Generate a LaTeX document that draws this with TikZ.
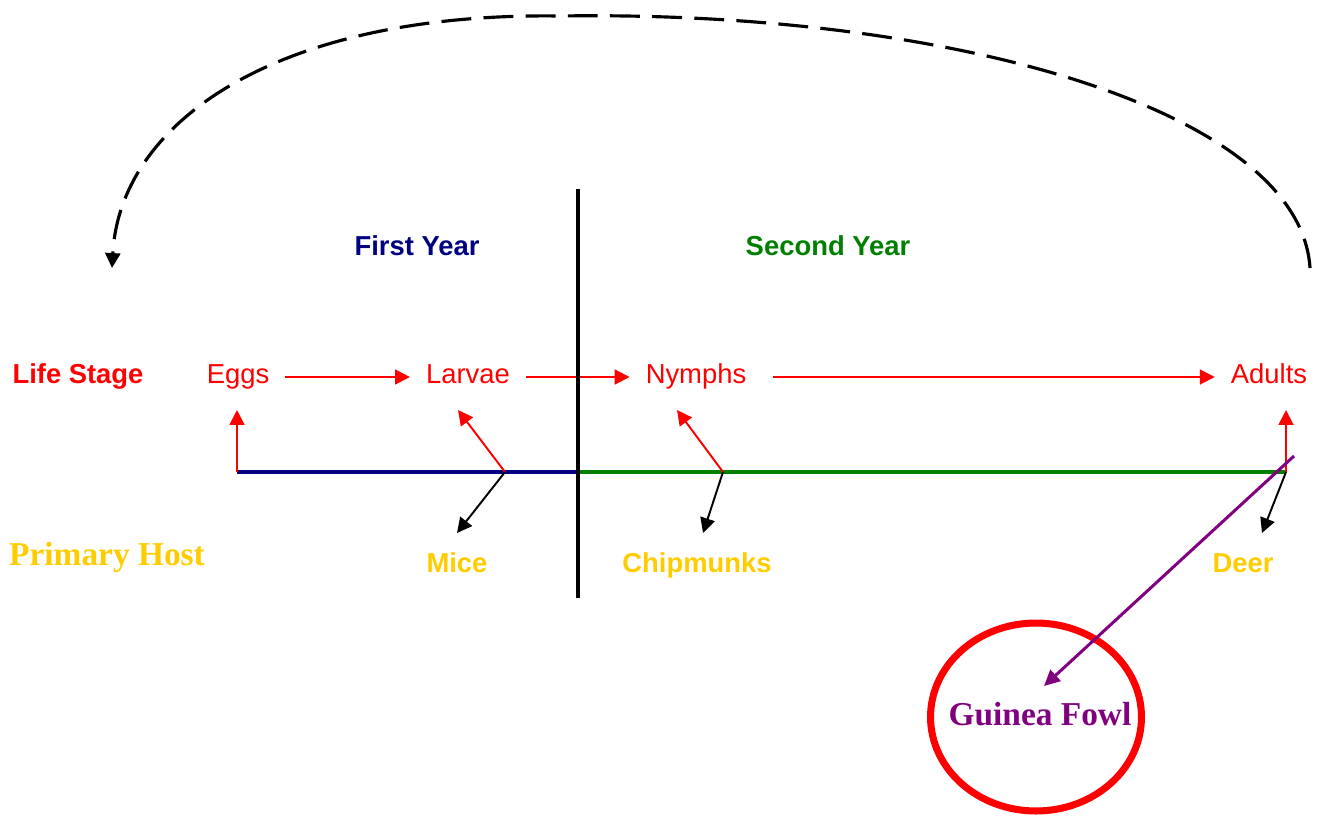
\documentclass[tikz,border=0pt]{standalone}
\usepackage{fontspec}
\setmainfont{Liberation Serif}
\setsansfont{Liberation Sans}
\usetikzlibrary{arrows.meta, shapes.geometric}

\definecolor{hostgold}{HTML}{FFCC00}
\definecolor{yearnavy}{HTML}{000080}
\definecolor{yeargreen}{HTML}{008000}
\definecolor{fowlpurple}{HTML}{800080}

\begin{document}
\begin{tikzpicture}[
        x=0.02cm, y=-0.02cm,
        lbl/.style={font=\sffamily\fontsize{15.6}{18}\selectfont, text height=11.2pt, text depth=3.3pt, inner xsep=9pt, inner ysep=0pt},
        stage/.style={lbl, text=red},
        boldlbl/.style={lbl, font=\sffamily\bfseries\fontsize{15.6}{18}\selectfont},
        host/.style={boldlbl, text=hostgold},
        serifbig/.style={font=\rmfamily\bfseries\fontsize{19}{22}\selectfont, text height=12.6pt, text depth=4pt, inner sep=0pt},
        flow/.style={draw=red, line width=1.1pt, -{Triangle[length=8.5pt, width=8.5pt]}},
        feed/.style={draw=black, line width=1.1pt, -{Triangle[length=8.5pt, width=8.5pt]}},
        ring/.style={ellipse, draw=red, line width=4pt, minimum width=4.22cm, minimum height=3.76cm, inner sep=0pt}
    ]
    \useasboundingbox (0,0) rectangle (1324,819);

    % Titles
    \node[boldlbl, text=yearnavy] (y1) at (417,249) {First Year};
    \node[boldlbl, text=yeargreen] (y2) at (828,249) {Second Year};

    % Life stages
    \node[boldlbl, text=red] (lifestage) at (78,377) {Life Stage};
    \node[stage] (eggs) at (238,377) {Eggs};
    \node[stage] (larvae) at (468,377) {Larvae};
    \node[stage] (nymphs) at (696,377) {Nymphs};
    \node[stage] (adults) at (1269,377) {Adults};

    \draw[flow] (eggs) -- (larvae);
    \draw[flow] (larvae) -- (nymphs);
    \draw[flow, shorten <=6pt] (nymphs) -- (adults);

    % Hosts
    \node[serifbig, text=hostgold] (primary) at (107,558) {Primary Host};
    \node[host] (mice) at (457,566) {Mice};
    \node[host] (chipmunks) at (697,566) {Chipmunks};
    \node[host] (deer) at (1243,566) {Deer};

    % Time line
    \coordinate (t0) at (237,472);
    \coordinate (t1) at (505,472);
    \coordinate (tm) at (578,472);
    \coordinate (t2) at (723,472);
    \coordinate (t3) at (1286,472);
    \coordinate (divtop) at (578,189);
    \coordinate (divbot) at (578,598);

    \draw[yearnavy, line width=2.2pt] (t0) -- (tm);
    \draw[yeargreen, line width=2.2pt] (tm) -- (t3);
    \draw[black, line width=2.6pt] (divtop) -- (divbot);

    % Feeding
    \coordinate (eggsin) at (237,410);
    \coordinate (larvaein) at (458,410);
    \coordinate (nymphsin) at (677,410);
    \coordinate (adultsin) at (1286,410);
    \coordinate (micein) at (457,533);
    \coordinate (chipin) at (703,533);
    \coordinate (deerin) at (1262,533);

    \draw[flow] (t0) -- (eggsin);
    \draw[flow] (t1) -- (larvaein);
    \draw[feed] (t1) -- (micein);
    \draw[flow] (t2) -- (nymphsin);
    \draw[feed] (t2) -- (chipin);
    \draw[flow] (t3) -- (adultsin);
    \draw[feed] (t3) -- (deerin);

    % Guinea fowl
    \node[ring] (fowlring) at (1036,717) {};
    \node[serifbig, text=fowlpurple] (fowl) at (1040,718) {Guinea Fowl};
    \coordinate (pstart) at (1294,456);
    \coordinate (pend) at (1044,686);
    \draw[fowlpurple, line width=1.7pt, -{Triangle[length=9pt, width=8.5pt]}] (pstart) -- (pend);

    % Cycle back
    \coordinate (arcR) at (1310,268);
    \coordinate (arcL) at (112,268);
    \draw[black, line width=1.8pt, dash pattern=on 17pt off 7pt, -{Triangle[length=8.5pt, width=8.5pt]}]
        (arcR) .. controls (1300,110) and (950,10) .. (560,16)
        .. controls (280,12) and (120,120) .. (arcL);

\end{tikzpicture}
\end{document}
